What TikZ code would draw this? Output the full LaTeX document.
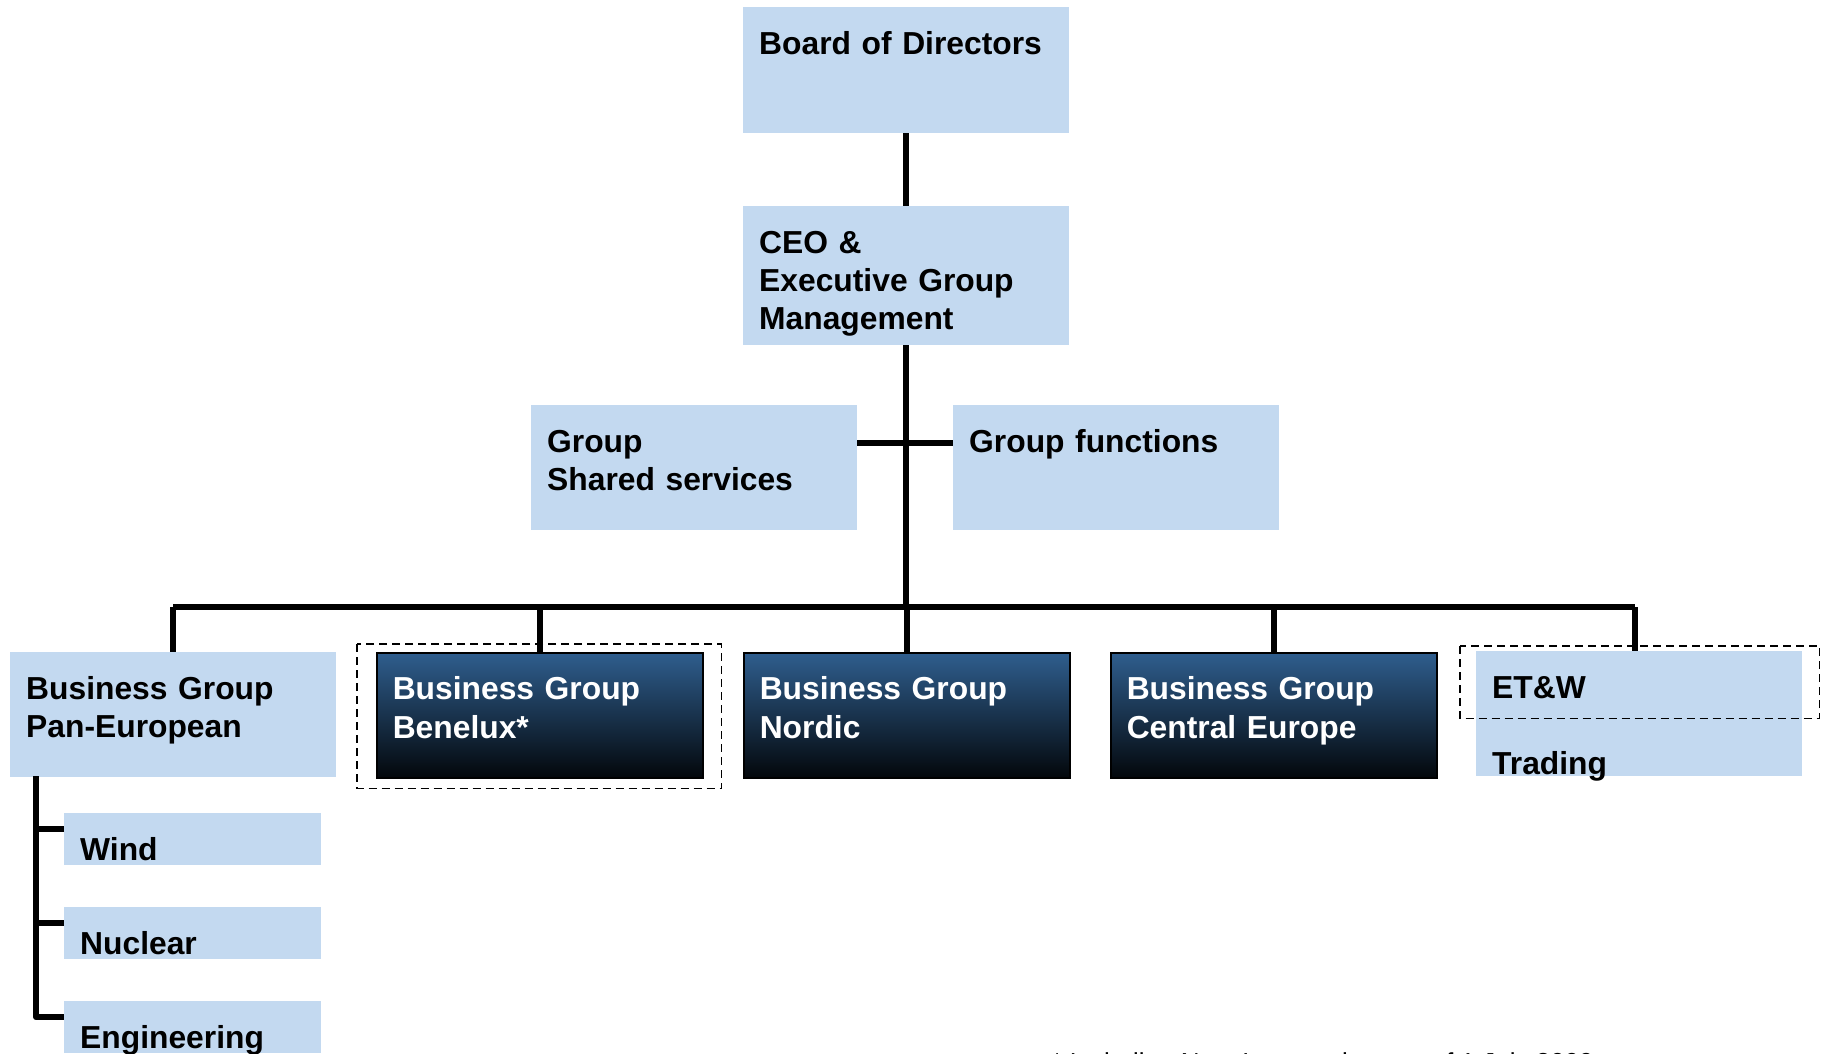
\documentclass[tikz,border=0pt]{standalone}
\usepackage{fontspec}
\setmainfont{Liberation Sans}
\definecolor{boxblue}{HTML}{C3D9F0}
\definecolor{darktop}{HTML}{2F5E8E}
\definecolor{darkmid}{HTML}{1B3A5A}
\definecolor{darkbot}{HTML}{03070B}
\tikzset{
  lbox/.style={anchor=north west,fill=boxblue,inner xsep=16pt,inner ysep=0pt,text width=294pt,align=left,
    font=\bfseries\fontsize{31.8}{38.3}\selectfont,text height=47pt,text depth=78pt},
  dbox/.style={lbox,draw=black,line width=1.5pt,top color=darktop,middle color=darkmid,bottom color=darkbot,text=white},
  subbox/.style={lbox,text width=225pt,text depth=5pt},
  conn/.style={line width=6pt,line join=round},
  dashbox/.style={line width=1.5pt,dash pattern=on 8pt off 5pt}
}
\begin{document}
\begin{tikzpicture}[x=1pt,y=-1pt]
      \useasboundingbox[fill=white] (0,0) rectangle (1821,1053);
      \node[lbox,text depth=79pt] (board) at (743,7) {Board of Directors};
      \node[lbox,text depth=92pt] (ceo) at (743,206) {CEO \&\\Executive Group\\Management};
      \node[lbox] (shared) at (531,405) {Group\\Shared services};
      \node[lbox] (functions) at (953,405) {Group functions};
      \node[lbox] (pan) at (10,652) {Business Group\\Pan-European};
      \node[dbox] (benelux) at (376,652) {Business Group\\Benelux*};
      \node[dbox] (nordic) at (743,652) {Business Group\\Nordic};
      \node[dbox] (central) at (1110,652) {Business Group\\Central Europe};
      \node[lbox] (etw) at (1476,651) {ET\&W\\[38.3pt]Trading};
      \node[subbox] (wind) at (64,813) {Wind};
      \node[subbox] (nuclear) at (64,907) {Nuclear};
      \node[subbox] (eng) at (64,1001) {Engineering};
      \coordinate (bus) at (909,607);
      \coordinate (spine) at (36,776);
      \draw[conn] (board.south) -- (ceo.north);
      \draw[conn] (ceo.south) -- (ceo.south |- bus);
      \draw[conn] ([yshift=25pt]shared.east) -- ([yshift=25pt]functions.west);
      \draw[conn] (pan.north |- bus) -- ([xshift=-4pt]etw.north |- bus);
      \foreach \n in {pan,benelux,nordic,central}
        \draw[conn] (\n.north |- bus) -- (\n.north);
      \draw[conn] ([xshift=-4pt]etw.north |- bus) -- ([xshift=-4pt]etw.north);
      \draw[conn] (spine) |- ([yshift=10pt]eng.west);
      \foreach \n in {wind,nuclear}
        \draw[conn] ([yshift=10pt]\n.west) -| (spine);
      \draw[dashbox] ([shift={(-19,-8)}]benelux.north west) rectangle ([shift={(18,10)}]benelux.south east);
      \draw[dashbox] ([shift={(-16,-5)}]etw.north west) rectangle ([shift={(17,-58)}]etw.south east);
      \node[anchor=base west,inner sep=0pt,font=\fontsize{26}{30}\selectfont] (note) at (1052,1071) {* Including Nuon's operations as of 1 July 2009};
\end{tikzpicture}
\end{document}
